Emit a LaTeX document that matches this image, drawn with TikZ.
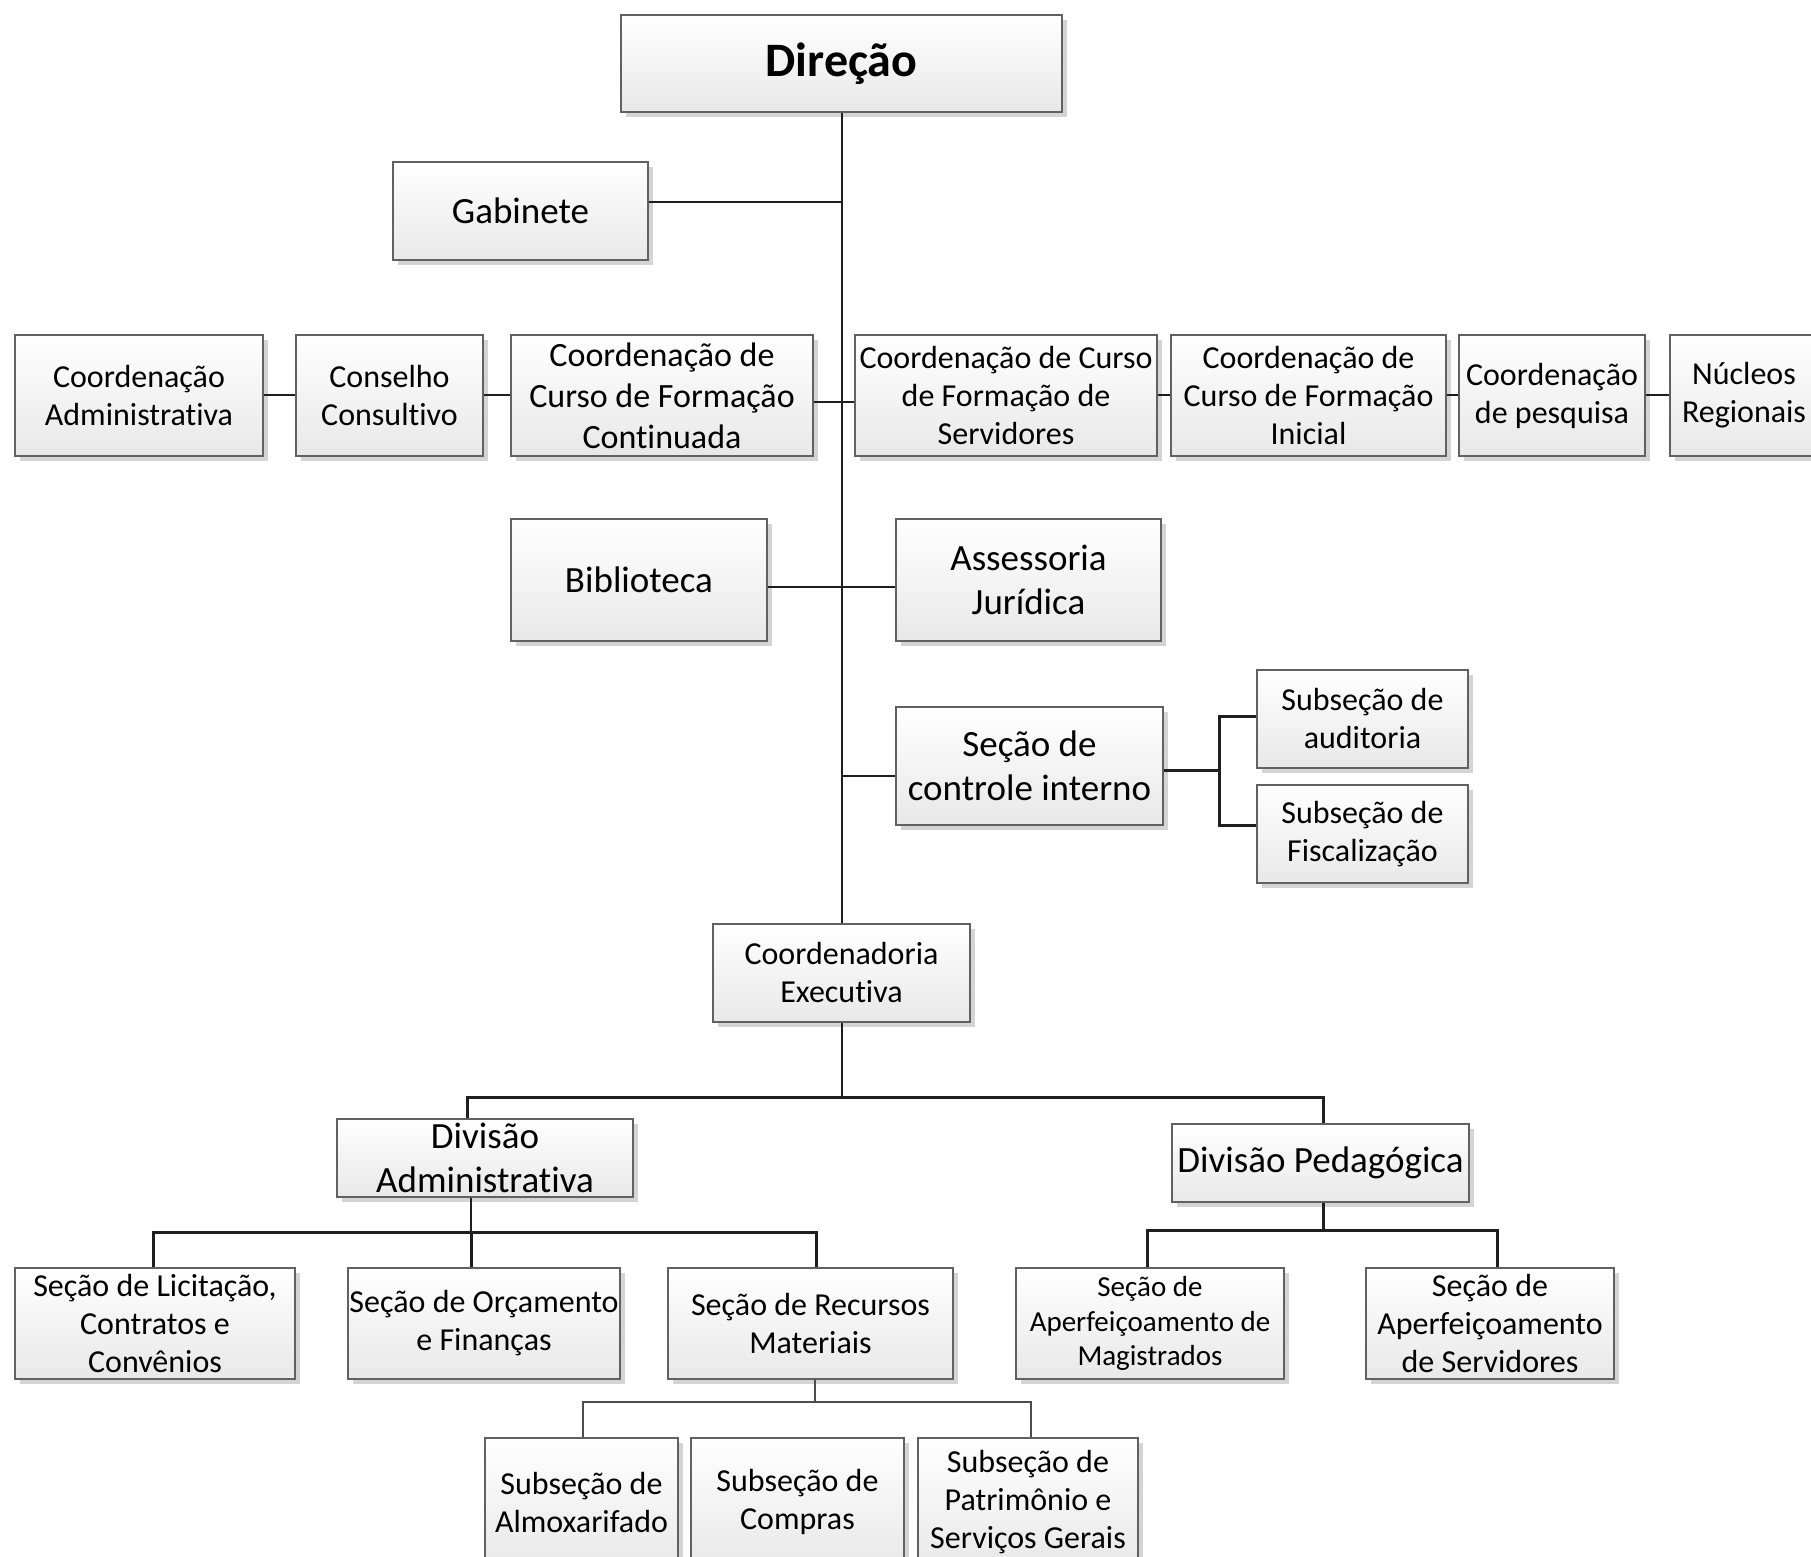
\documentclass[tikz,border=0pt]{standalone}
\usepackage{fontspec}
\setmainfont{Carlito}[Ligatures=NoCommon]
\usetikzlibrary{shadows,calc}
\tikzset{
  box/.style={draw=black!62, line width=0.7pt, top color=white, bottom color=black!9,
    inner sep=0pt, align=center, text=black,
    drop shadow={shadow xshift=2.5pt, shadow yshift=-2.5pt, fill=black!17, opacity=1}},
  ln/.style={draw=black!88, line width=1pt},
  lnb/.style={draw=black!88, line width=1.5pt},
  lnt/.style={draw=black!70, line width=0.6pt}
}
\newcommand\fs[2]{\fontsize{#1}{#2}\selectfont}
\newcommand\ob[7]{%
  \pgfmathsetmacro\obw{(#4-#2)/2}%
  \pgfmathsetmacro\obh{(#5-#3)/2}%
  \pgfmathsetmacro\obx{(#2+#4)/2}%
  \pgfmathsetmacro\oby{(#3+#5)/2}%
  \node[box,font=#7,minimum width=\obw pt,minimum height=\obh pt] (#1) at (\obx,\oby) {#6};}
\begin{document}
\begin{tikzpicture}[x=0.5pt,y=-0.5pt]
\useasboundingbox (0,0) rectangle (1811,1557);
% boxes
\ob{dir}{621}{15}{1062}{112}{\textbf{Direção}}{\fs{24}{29}}
\ob{gab}{393}{162}{648}{260}{Gabinete}{\fs{18.5}{22}}
\ob{cadm}{15}{335}{263}{456}{Coordenação\\Administrativa}{\fs{16}{19}}
\ob{cons}{296}{335}{483}{456}{Conselho\\Consultivo}{\fs{16}{19}}
\ob{cont}{511}{335}{813}{456}{Coordenação de\\Curso de Formação\\Continuada}{\fs{17}{20.5}}
\ob{serv}{855}{335}{1157}{456}{Coordenação de Curso\\de Formação de\\Servidores}{\fs{16}{19}}
\ob{inic}{1171}{335}{1446}{456}{Coordenação de\\Curso de Formação\\Inicial}{\fs{16}{19}}
\ob{pesq}{1459}{335}{1645}{456}{Coordenação\\de pesquisa}{\fs{16}{19}}
\ob{nuc}{1670}{335}{1818}{456}{Núcleos\\Regionais}{\fs{16}{19}}
\ob{bib}{511}{519}{767}{641}{Biblioteca}{\fs{18.5}{22}}
\ob{ass}{896}{519}{1161}{641}{Assessoria\\Jurídica}{\fs{18.5}{22}}
\ob{cint}{896}{707}{1163}{825}{Seção de\\controle interno}{\fs{18.5}{22}}
\ob{aud}{1257}{670}{1468}{768}{Subseção de\\auditoria}{\fs{16}{19}}
\ob{fis}{1257}{785}{1468}{883}{Subseção de\\Fiscalização}{\fs{16}{19}}
\ob{cex}{713}{924}{970}{1022}{Coordenadoria\\Executiva}{\fs{16}{19}}
\ob{dadm}{337}{1119}{633}{1197}{Divisão\\Administrativa}{\fs{18.5}{22}}
\ob{dped}{1172}{1124}{1469}{1202}{Divisão Pedagógica}{\fs{18.5}{22}}
\ob{lic}{15}{1268}{295}{1379}{Seção de Licitação,\\Contratos e\\Convênios}{\fs{16}{19}}
\ob{orc}{348}{1268}{620}{1379}{Seção de Orçamento\\e Finanças}{\fs{16}{19}}
\ob{rec}{668}{1268}{953}{1379}{Seção de Recursos\\Materiais}{\fs{16}{19}}
\ob{mag}{1016}{1268}{1284}{1379}{Seção de\\Aperfeiçoamento de\\Magistrados}{\fs{14.5}{17.3}}
\ob{aps}{1366}{1268}{1614}{1379}{Seção de\\Aperfeiçoamento\\de Servidores}{\fs{16}{19}}
\ob{alm}{485}{1438}{678}{1566}{Subseção de\\Almoxarifado}{\fs{16}{19}}
\ob{com}{691}{1438}{904}{1566}{Subseção de\\Compras}{\fs{16}{19}}
\ob{pat}{918}{1438}{1138}{1566}{Subseção de\\Patrimônio e\\Serviços Gerais}{\fs{16}{19}}
% helper coordinates
\coordinate (yg) at (0,202);
\coordinate (yr) at (0,402);
\coordinate (yb) at (0,587);
\coordinate (yc) at (0,776);
\coordinate (yk) at (0,770);
\coordinate (b1) at (1219,716);
\coordinate (b2) at (1219,825);
\coordinate (h1L) at (467,1097);
\coordinate (h1R) at (1323,1097);
\coordinate (h2L) at (153,1232);
\coordinate (h2M) at (471,1232);
\coordinate (h2R) at (816,1232);
\coordinate (h3L) at (1147,1230);
\coordinate (h3R) at (1497,1230);
\coordinate (h4L) at (583,1402);
\coordinate (h4M) at (815,1402);
\coordinate (h4R) at (1031,1402);
% trunk
\draw[ln] (dir.south) -- (cex.north);
\draw[ln] (gab.east |- yg) -- (dir.south |- yg);
\draw[ln] (cont.east |- yr) -- (serv.west |- yr);
\draw[ln] (cadm.east) -- (cons.west);
\draw[ln] (cons.east) -- (cont.west);
\draw[ln] (serv.east) -- (inic.west);
\draw[ln] (inic.east) -- (pesq.west);
\draw[ln] (pesq.east) -- (nuc.west);
\draw[ln] (bib.east |- yb) -- (ass.west |- yb);
\draw[ln] (dir.south |- yc) -- (cint.west |- yc);
% controle interno bracket
\draw[lnb] (cint.east |- yk) -- (b1 |- yk);
\draw[lnb] (aud.west |- b1) -- (b1) -- (b2) -- (fis.west |- b2);
% executive to divisions
\draw[ln] (cex.south) -- (cex.south |- h1L);
\draw[lnb] (h1L |- dadm.north) -- (h1L) -- (h1R) -- (h1R |- dped.north);
% div adm
\draw[ln] (h2M |- dadm.south) -- (h2M);
\draw[lnb] (h2L |- lic.north) -- (h2L) -- (h2R) -- (h2R |- rec.north);
\draw[lnb] (h2M) -- (h2M |- orc.north);
% div ped
\draw[lnb] (h3L |- mag.north) -- (h3L) -- (h3R) -- (h3R |- aps.north);
\draw[lnb] (h1R |- dped.south) -- (h1R |- h3L);
% recursos materiais
\draw[lnt] (h4M |- rec.south) -- (h4M);
\draw[lnt] (h4L |- alm.north) -- (h4L) -- (h4R) -- (h4R |- pat.north);
\end{tikzpicture}
\end{document}
